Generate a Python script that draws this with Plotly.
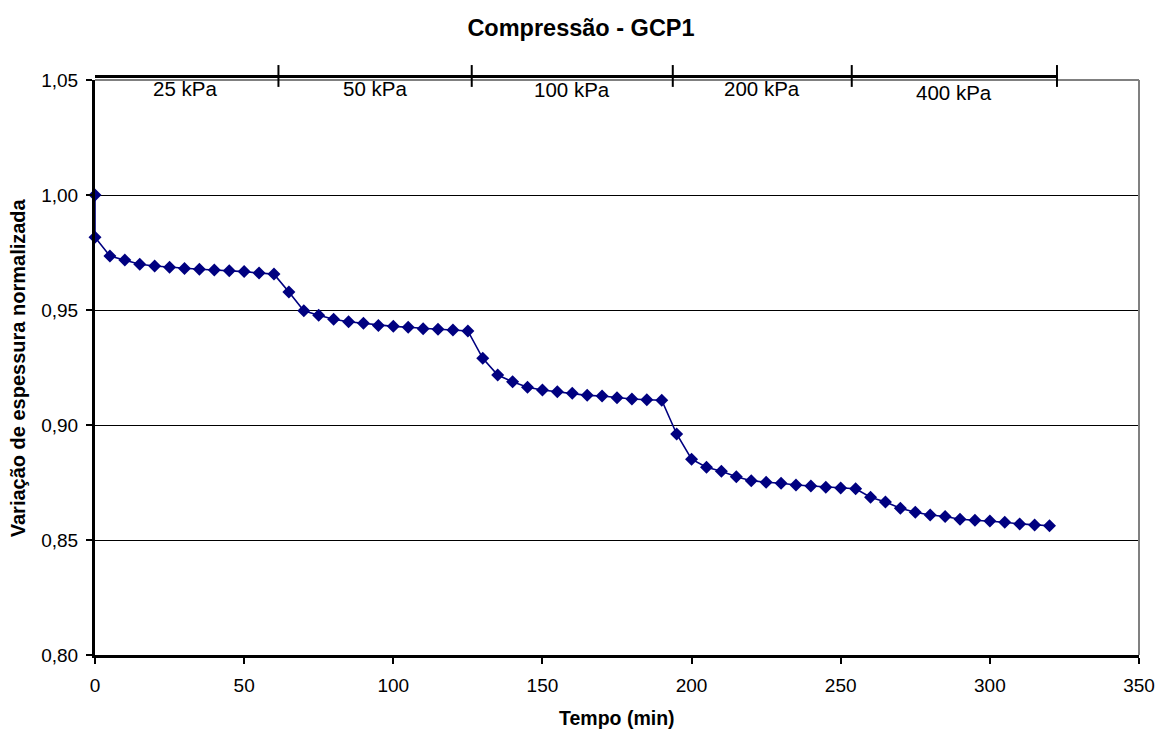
import plotly.graph_objects as go

# ---- data ----
tempo_min = [0, 0, 5, 10, 15, 20, 25, 30, 35, 40, 45, 50, 55, 60,
             65, 70, 75, 80, 85, 90, 95, 100, 105, 110, 115, 120, 125,
             130, 135, 140, 145, 150, 155, 160, 165, 170, 175, 180, 185, 190,
             195, 200, 205, 210, 215, 220, 225, 230, 235, 240, 245, 250, 255,
             260, 265, 270, 275, 280, 285, 290, 295, 300, 305, 310, 315, 320]
espessura_norm = [1.000, 0.9816, 0.9735, 0.9717, 0.9699, 0.9691, 0.9686, 0.9680, 0.9677, 0.9674, 0.9671, 0.9667, 0.9661, 0.9656,
                  0.9578, 0.9497, 0.9477, 0.9460, 0.9449, 0.9442, 0.9433, 0.9429, 0.9425, 0.9419, 0.9416, 0.9413, 0.9409,
                  0.9290, 0.9217, 0.9188, 0.9164, 0.9152, 0.9145, 0.9138, 0.9129, 0.9126, 0.9119, 0.9113, 0.9110, 0.9108,
                  0.8961, 0.8851, 0.8816, 0.8799, 0.8775, 0.8758, 0.8751, 0.8747, 0.8739, 0.8735, 0.8729, 0.8726, 0.8723,
                  0.8686, 0.8665, 0.8638, 0.8621, 0.8609, 0.8602, 0.8590, 0.8586, 0.8583, 0.8577, 0.8570, 0.8565, 0.8562]

stage_labels = ["25 kPa", "50 kPa", "100 kPa", "200 kPa", "400 kPa"]
stage_bounds = [-1, 61.5, 126.3, 193.7, 253.7, 322.5]
stage_label_y = [0.986, 0.986, 0.984, 0.986, 0.979]

x_ticks = [0, 50, 100, 150, 200, 250, 300, 350]
y_ticks = [0.80, 0.85, 0.90, 0.95, 1.00, 1.05]

FONT = "Liberation Sans, Arial, sans-serif"

fig = go.Figure()
fig.add_trace(go.Scatter(
    x=tempo_min, y=espessura_norm, mode="lines+markers",
    line=dict(color="#000080", width=1.6),
    marker=dict(symbol="diamond", size=10, color="#000080",
                line=dict(width=0)),
    cliponaxis=False, showlegend=False,
))

shapes = []
# grey frame (top and right)
shapes.append(dict(type="line", xref="paper", yref="paper", x0=0, x1=1, y0=1, y1=1,
                   line=dict(color="#808080", width=2), layer="above"))
shapes.append(dict(type="line", xref="paper", yref="paper", x0=1, x1=1, y0=0, y1=1,
                   line=dict(color="#808080", width=2), layer="above"))
# stage bar
shapes.append(dict(type="line", xref="x", yref="paper", x0=stage_bounds[0], x1=stage_bounds[-1],
                   y0=1.0061, y1=1.0061, line=dict(color="black", width=3), layer="above"))
for b in stage_bounds:
    shapes.append(dict(type="line", xref="x", yref="paper", x0=b, x1=b,
                       y0=0.988, y1=1.026, line=dict(color="black", width=2), layer="above"))

annotations = []
for i, lab in enumerate(stage_labels):
    annotations.append(dict(x=(stage_bounds[i] + stage_bounds[i + 1]) / 2, y=stage_label_y[i],
                            xref="x", yref="paper", text=lab, showarrow=False,
                            xanchor="center", yanchor="middle",
                            font=dict(family=FONT, size=20.5, color="black")))
# axis titles
annotations.append(dict(x=0.5, y=-0.109, xref="paper", yref="paper", text="<b>Tempo (min)</b>",
                        showarrow=False, xanchor="center", yanchor="middle",
                        font=dict(family=FONT, size=19.5, color="black")))
annotations.append(dict(x=-0.074, y=0.5, xref="paper", yref="paper",
                        text="<b>Variação de espessura normalizada</b>", textangle=-90,
                        showarrow=False, xanchor="center", yanchor="middle",
                        font=dict(family=FONT, size=20, color="black")))

fig.update_layout(
    width=1162, height=733,
    margin=dict(l=95, r=23, t=80, b=78),
    paper_bgcolor="white", plot_bgcolor="white",
    separators=",.",
    title=dict(text="<b>Compressão - GCP1</b>", x=0.5, xref="container", xanchor="center",
               y=1 - 28 / 733, yref="container", yanchor="middle",
               font=dict(family=FONT, size=23.5, color="black")),
    xaxis=dict(range=[0, 350], tickvals=x_ticks, showgrid=False, zeroline=False,
               showline=True, linecolor="black", linewidth=3, automargin=False,
               ticks="outside", ticklen=6, tickwidth=2, tickcolor="black",
               ticklabelstandoff=5,
               tickfont=dict(family=FONT, size=19, color="black")),
    yaxis=dict(range=[0.80, 1.05], tickvals=y_ticks, tickformat=".2f",
               showgrid=True, gridcolor="black", gridwidth=1, zeroline=False,
               showline=True, linecolor="black", linewidth=3, automargin=False,
               ticks="outside", ticklen=6, tickwidth=2, tickcolor="black",
               ticklabelstandoff=4,
               tickfont=dict(family=FONT, size=19, color="black")),
    shapes=shapes,
    annotations=annotations,
)

fig.write_html("out.html", config={"displayModeBar": False},
               post_script="document.body.style.margin='0';document.body.style.overflow='hidden';")
